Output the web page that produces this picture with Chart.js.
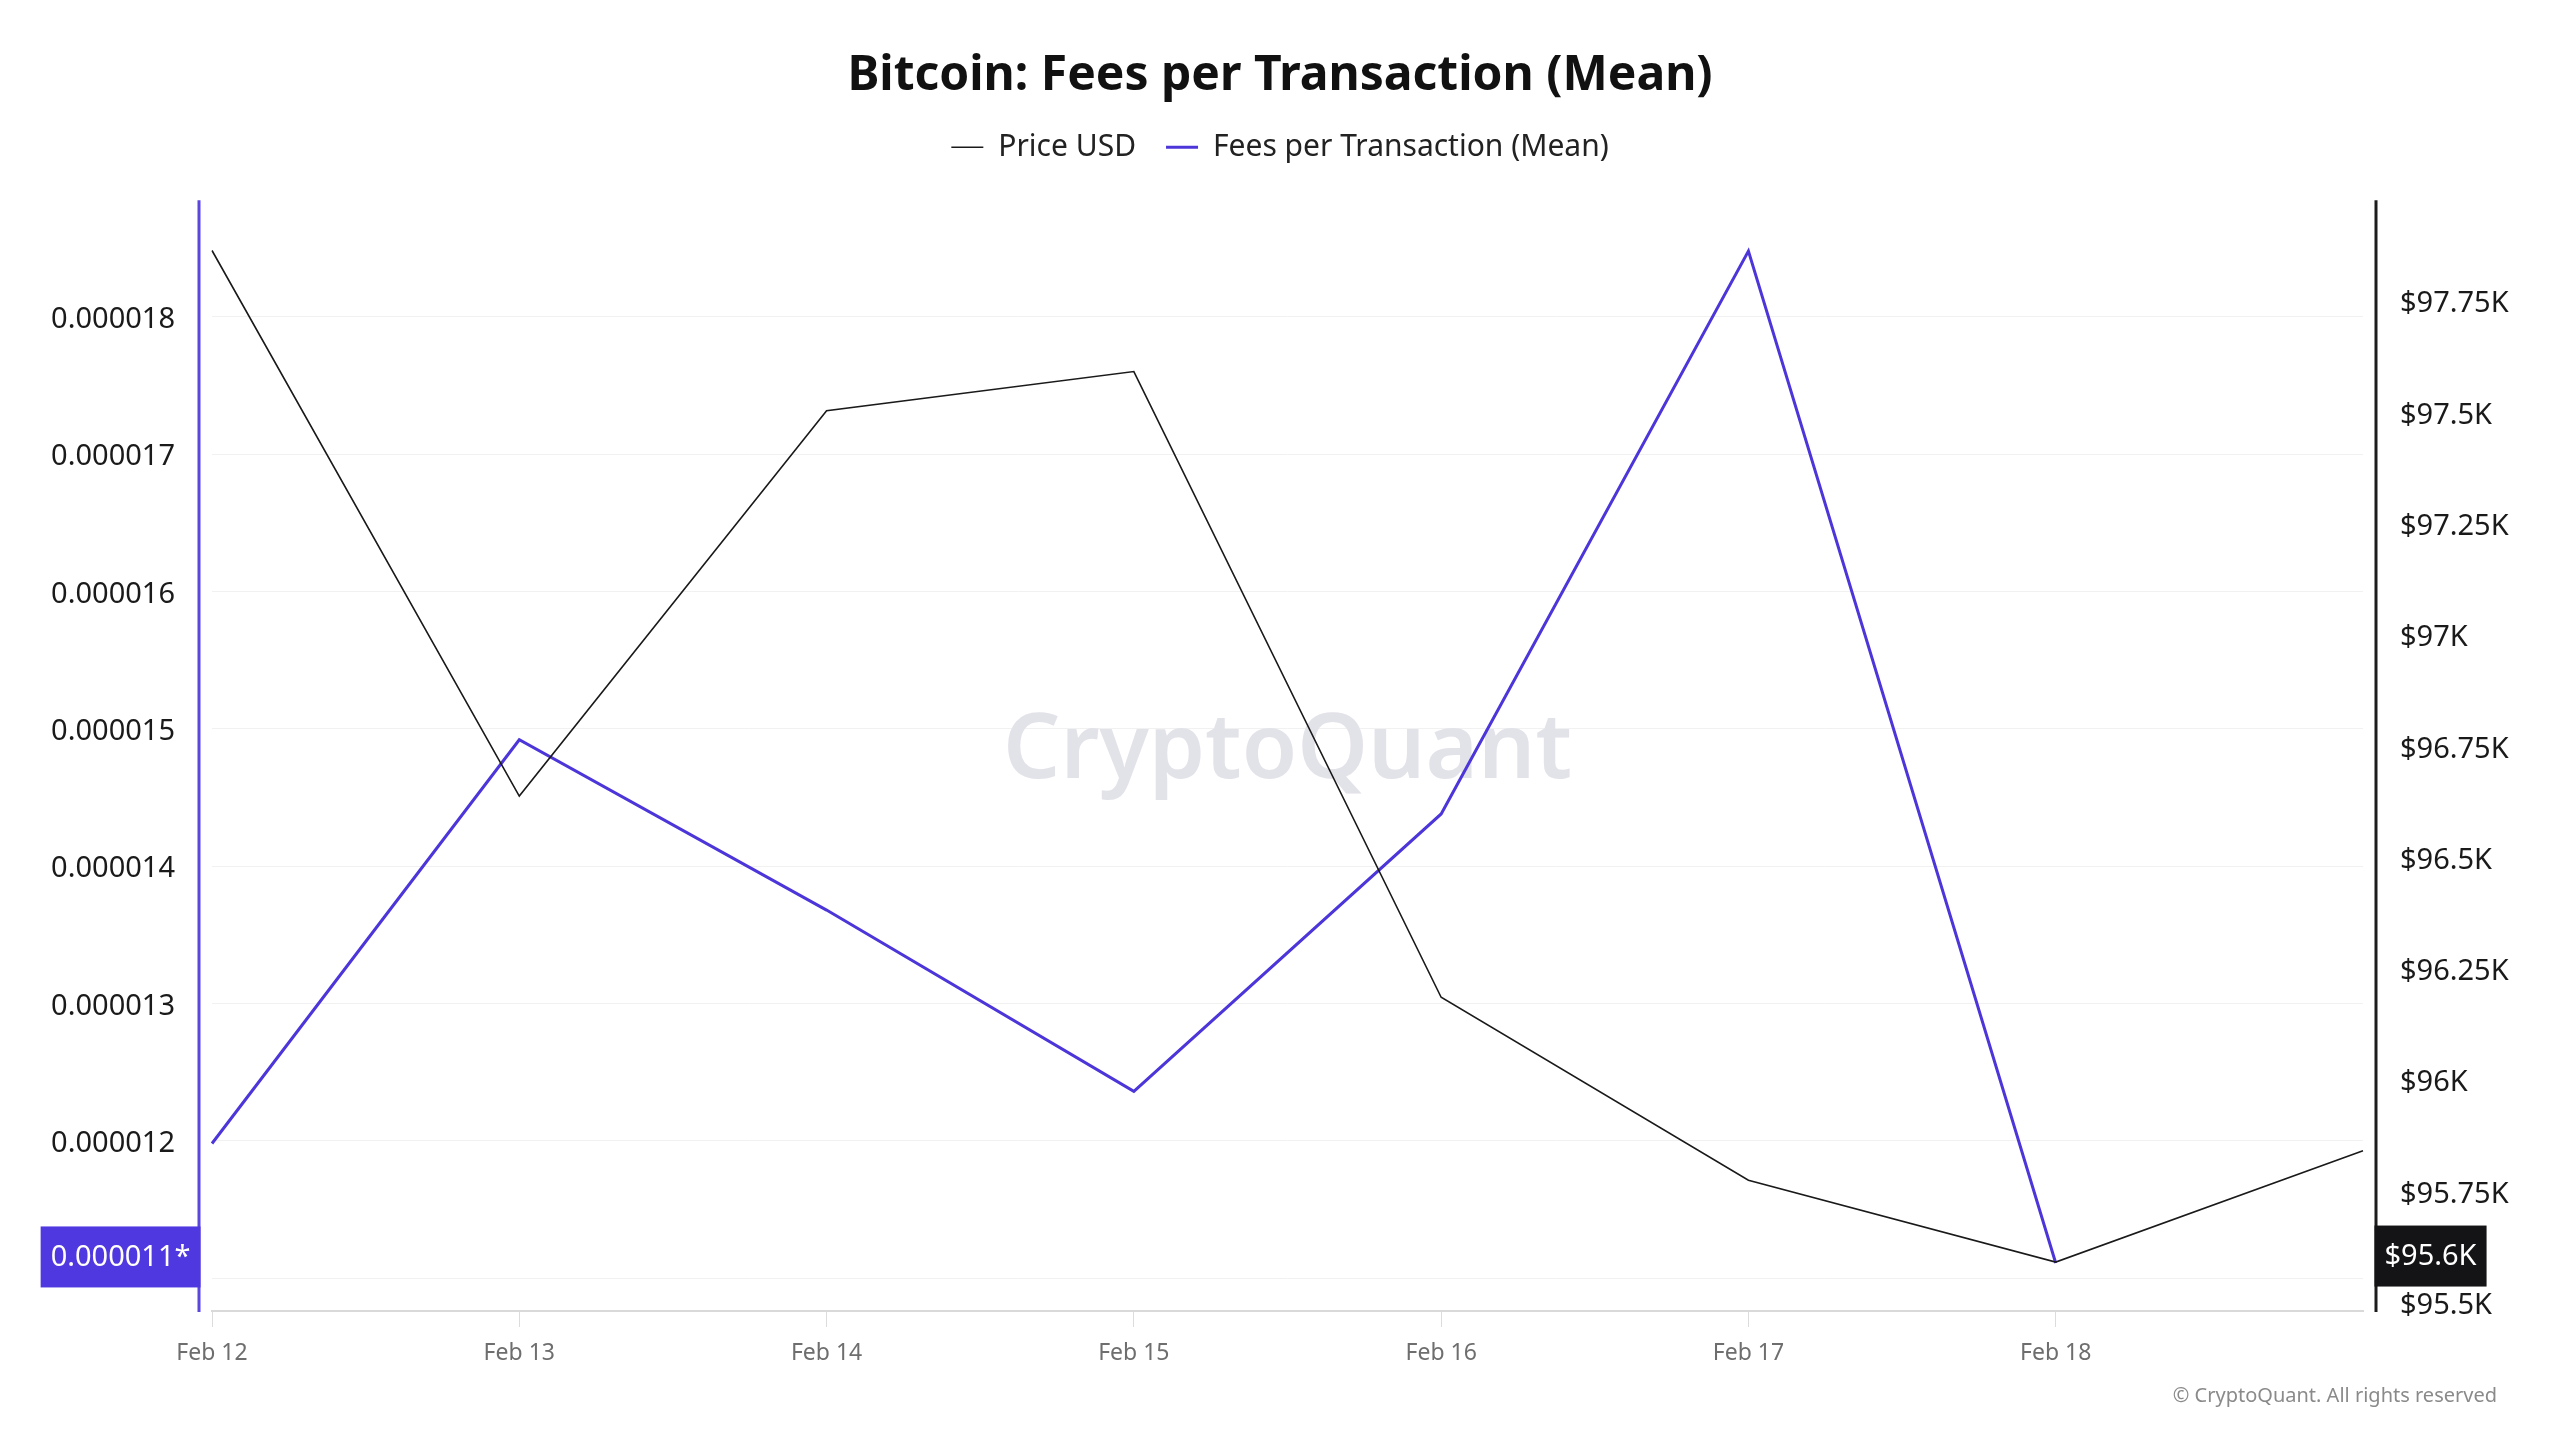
<!DOCTYPE html>
<html>
<head>
<meta charset="utf-8">
<title>Bitcoin: Fees per Transaction (Mean)</title>
<script src="https://cdn.jsdelivr.net/npm/chart.js@4.4.1/dist/chart.umd.min.js"></script>
<style>
  html, body { margin: 0; padding: 0; background: #fff; }
  #wrap { width: 2560px; height: 1440px; position: relative; }
</style>
</head>
<body>
<div id="wrap"><canvas id="feeChart"></canvas></div>
<script>
// values, one per day
const days = ['Feb 12', 'Feb 13', 'Feb 14', 'Feb 15', 'Feb 16', 'Feb 17', 'Feb 18', 'Feb 19'];
const priceUsd = [97864, 96638, 97504, 97592, 96186, 95775, 95591, 95841];
const feesMean = [0.00001198, 0.00001492, 0.00001368, 0.00001236, 0.00001438, 0.00001848, 0.00001111, null];

// tick labels on both sides
const feeTicks = [0.000011, 0.000012, 0.000013, 0.000014, 0.000015, 0.000016, 0.000017, 0.000018];
const priceTicks = [95500, 95750, 96000, 96250, 96500, 96750, 97000, 97250, 97500, 97750];

const FEE_COLOR = '#4c36da';
const FONT = '"Noto Sans", "Open Sans", sans-serif';

// index of the latest fee value, the tags on the axes show that day
let lastIdx = feesMean.length - 1;
while (feesMean[lastIdx] == null) lastIdx--;

function priceLabel(v, digits) {
    let k = v / 1000;
    return '$' + (digits != null ? k.toFixed(digits) : String(k)) + 'K';
}

function drawTag(ctx, text, x, y, bg, toLeft) {
    ctx.save();
    ctx.font = '29px ' + FONT;
    let w = ctx.measureText(text).width + 20;
    let h = 61;
    let left = toLeft ? x - w : x;
    ctx.fillStyle = bg;
    ctx.fillRect(left, y - h / 2, w, h);
    ctx.fillStyle = '#fff';
    ctx.textAlign = 'center';
    ctx.textBaseline = 'middle';
    ctx.fillText(text, left + w / 2, y + 1);
    ctx.restore();
}

// push the plot down a bit below the legend
const legendGap = {
    id: 'legendGap',
    beforeInit(chart) {
        const origFit = chart.legend.fit;
        chart.legend.fit = function fit() {
            origFit.bind(chart.legend)();
            this.height += 28;
        };
    }
};

const decorations = {
    id: 'decorations',
    beforeDatasetsDraw(chart) {
        const {ctx, chartArea} = chart;
        ctx.save();
        ctx.font = '600 90px ' + FONT;
        ctx.fillStyle = '#e2e2e9';
        ctx.textAlign = 'center';
        ctx.textBaseline = 'middle';
        ctx.fillText('CryptoQuant', (chartArea.left + chartArea.right) / 2, (chartArea.top + chartArea.bottom) / 2 - 3);
        ctx.restore();
    },
    afterDraw(chart) {
        const {ctx, chartArea, scales} = chart;
        let lx = chartArea.left - 13, rx = chartArea.right + 13;
        ctx.save();
        ctx.lineWidth = 3;
        ctx.strokeStyle = '#5a45de';
        ctx.beginPath(); ctx.moveTo(lx, chartArea.top); ctx.lineTo(lx, chartArea.bottom + 1); ctx.stroke();
        ctx.strokeStyle = '#1c1c1f';
        ctx.beginPath(); ctx.moveTo(rx, chartArea.top); ctx.lineTo(rx, chartArea.bottom + 1); ctx.stroke();

        drawTag(ctx, feesMean[lastIdx].toFixed(6) + '*', lx + 1.5, scales.yFee.getPixelForValue(feesMean[lastIdx]) - 6, '#5038e0', true);
        drawTag(ctx, priceLabel(priceUsd[lastIdx], 1), rx - 1.5, scales.yPrice.getPixelForValue(priceUsd[lastIdx]) - 6, '#141416', false);

        ctx.font = '20px ' + FONT;
        ctx.fillStyle = '#8a8a8a';
        ctx.textAlign = 'right';
        ctx.textBaseline = 'middle';
        ctx.fillText('\u00a9 CryptoQuant. All rights reserved', 2497, 1396);
        ctx.restore();
    }
};

let chart = new Chart(document.getElementById('feeChart'), {
    type: 'line',
    data: {
        labels: days,
        datasets: [{
            label: 'Price USD',
            data: priceUsd,
            yAxisID: 'yPrice',
            borderColor: '#1a1a1a',
            borderWidth: 1.6,
            pointRadius: 0,
            tension: 0
        }, {
            label: 'Fees per Transaction (Mean)',
            data: feesMean,
            yAxisID: 'yFee',
            borderColor: FEE_COLOR,
            borderWidth: 3,
            pointRadius: 0,
            tension: 0
        }]
    },
    options: {
        responsive: true,
        maintainAspectRatio: false,
        animation: false,
        layout: { padding: 0 },
        plugins: {
            title: {
                display: true,
                text: 'Bitcoin: Fees per Transaction (Mean)',
                color: '#111',
                font: { family: FONT, size: 48, weight: '700', lineHeight: 0.9 },
                padding: { top: 55, bottom: 4 }
            },
            legend: {
                display: true,
                labels: {
                    color: '#222',
                    font: { family: FONT, size: 30 },
                    usePointStyle: true,
                    pointStyle: 'line',
                    pointStyleWidth: 32,
                    padding: 30
                }
            },
            tooltip: { enabled: false }
        },
        scales: {
            x: {
                type: 'category',
                offset: false,
                afterBuildTicks: s => { s.ticks = s.ticks.slice(0, days.length - 1); },
                afterFit: s => { s.height = 129; },
                grid: { display: true, drawOnChartArea: false, drawTicks: true, tickLength: 16, color: '#dcdcdc' },
                border: { display: true, color: '#d9d9d9', width: 2 },
                ticks: {
                    color: '#6e6e6e',
                    font: { family: FONT, size: 23 },
                    padding: 13,
                    maxRotation: 0,
                    autoSkip: false
                }
            },
            yFee: {
                type: 'linear',
                position: 'left',
                min: 0.00001076,
                max: 0.00001885,
                afterBuildTicks: s => { s.ticks = feeTicks.map(v => ({ value: v })); },
                afterFit: s => { s.width = 212; },
                grid: { color: '#f1f1f1', drawTicks: false },
                border: { display: false },
                ticks: {
                    color: '#1a1a1a',
                    font: { family: FONT, size: 29 },
                    padding: 37,
                    labelOffset: 3,
                    callback: (v) => v === feeTicks[0] ? '' : v.toFixed(6)
                }
            },
            yPrice: {
                type: 'linear',
                position: 'right',
                min: 95481,
                max: 97977,
                afterBuildTicks: s => { s.ticks = priceTicks.map(v => ({ value: v })); },
                afterFit: s => { s.width = 197; },
                grid: { display: false, drawTicks: false },
                border: { display: false },
                ticks: {
                    color: '#1a1a1a',
                    font: { family: FONT, size: 29 },
                    padding: 37,
                    labelOffset: 3,
                    callback: (v) => priceLabel(v)
                }
            }
        }
    },
    plugins: [legendGap, decorations]
});
</script>
</body>
</html>
